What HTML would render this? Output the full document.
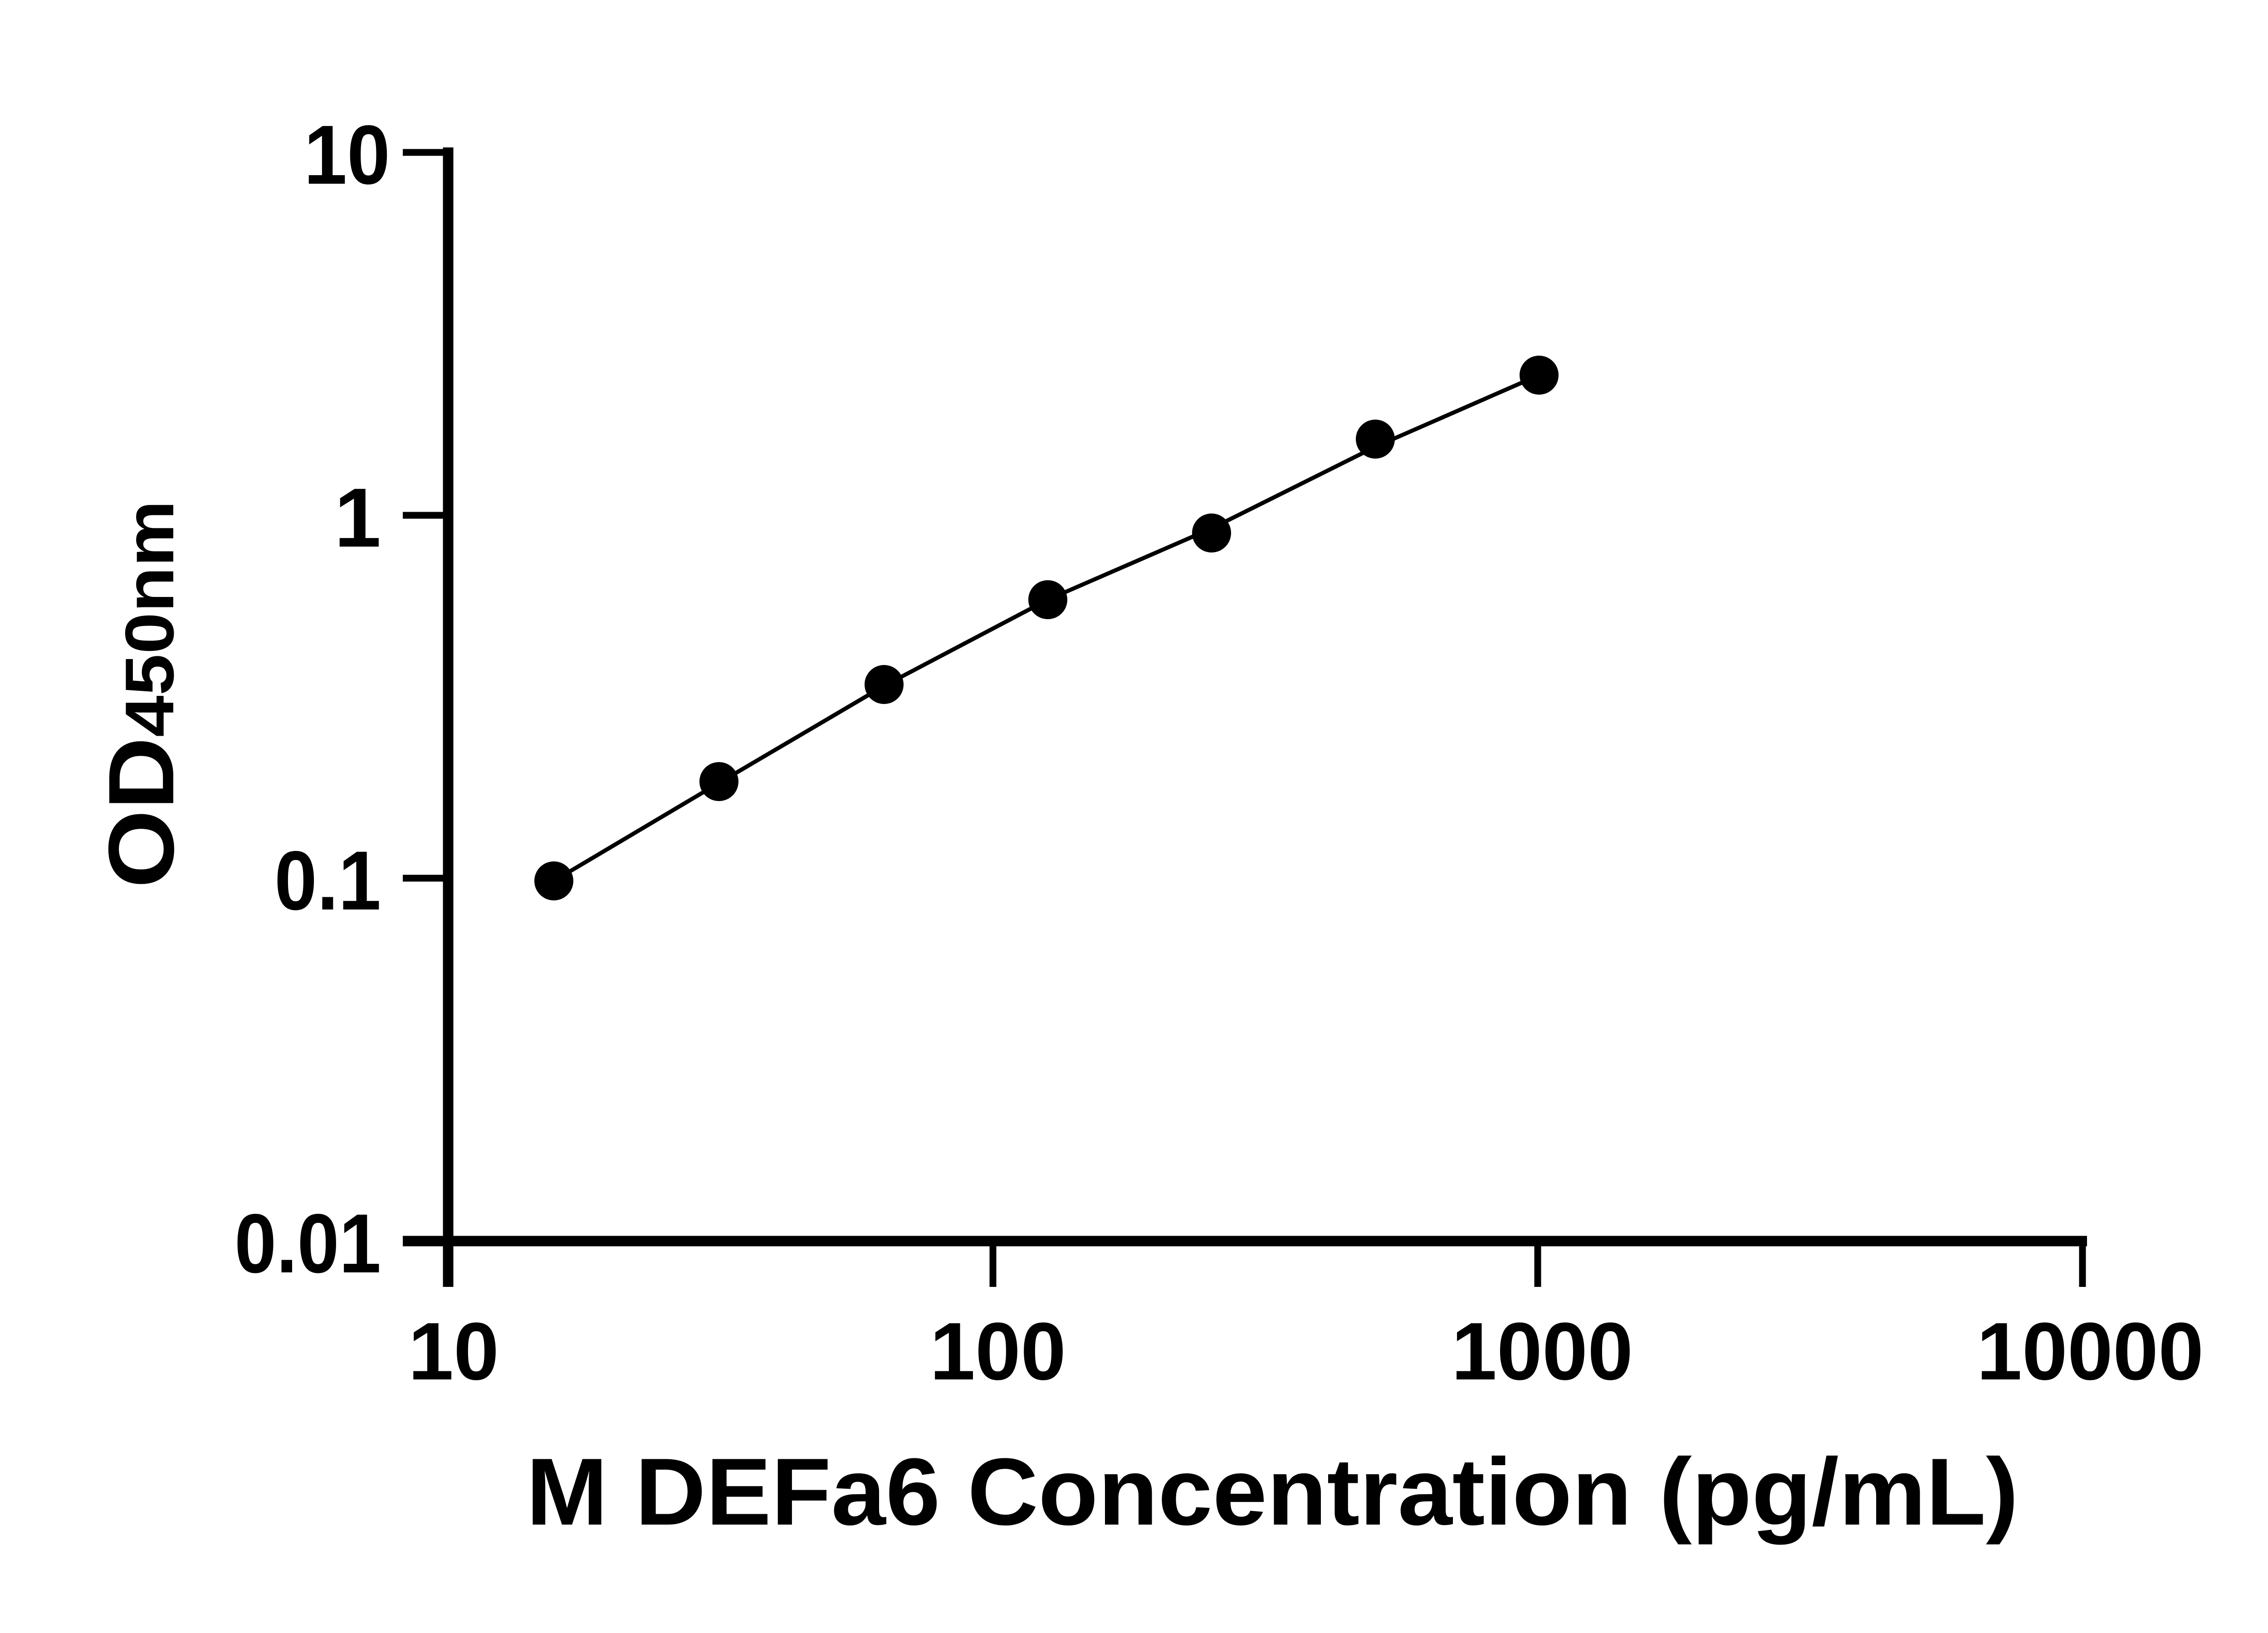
<!DOCTYPE html>
<html><head><style>html,body{margin:0;padding:0;background:#fff}svg{display:block}</style></head>
<body>
<svg width="5142" height="3600" viewBox="0 0 5142 3600" xmlns="http://www.w3.org/2000/svg" font-family="'Liberation Sans', sans-serif" font-weight="bold">
<rect width="5142" height="3600" fill="#fff"/>
<line x1="988" y1="325" x2="988" y2="2837" stroke="#000" stroke-width="23"/>
<line x1="888" y1="2736" x2="4601" y2="2736" stroke="#000" stroke-width="23"/>
<g stroke="#000" stroke-width="15">
<line x1="888" y1="336" x2="988" y2="336"/>
<line x1="888" y1="1136" x2="988" y2="1136"/>
<line x1="888" y1="1936" x2="988" y2="1936"/>
<line x1="988" y1="2736" x2="988" y2="2837"/>
<line x1="2189" y1="2736" x2="2189" y2="2837"/>
<line x1="3390" y1="2736" x2="3390" y2="2837"/>
<line x1="4591" y1="2736" x2="4591" y2="2837"/>
</g>
<g font-size="185" text-anchor="end">
<text x="860" y="405" textLength="190" lengthAdjust="spacingAndGlyphs">10</text>
<text x="840" y="1205">1</text>
<text x="840" y="2005" textLength="235" lengthAdjust="spacingAndGlyphs">0.1</text>
<text x="840" y="2805" textLength="323" lengthAdjust="spacingAndGlyphs">0.01</text>
</g>
<g font-size="180" text-anchor="middle">
<text x="1000" y="3041">10</text>
<text x="2200" y="3041">100</text>
<text x="3400" y="3041">1000</text>
<text x="4608" y="3041">10000</text>
</g>
<text x="1160" y="3361" font-size="210" textLength="3290" lengthAdjust="spacingAndGlyphs">M DEFa6 Concentration (pg/mL)</text>
<text transform="translate(382,1958) rotate(-90)" font-size="205" textLength="855" lengthAdjust="spacingAndGlyphs"><tspan>OD</tspan><tspan font-size="152">450nm</tspan></text>
<polyline fill="none" stroke="#000" stroke-width="9" points="1221,1942 1585,1726 1949,1512 2310,1322 2671,1165 3032,985 3393,827"/>
<g fill="#000">
<circle cx="1221" cy="1942" r="43"/>
<circle cx="1585" cy="1723" r="43"/>
<circle cx="1949" cy="1509" r="43"/>
<circle cx="2310" cy="1322" r="43"/>
<circle cx="2671" cy="1175" r="43"/>
<circle cx="3032" cy="968" r="43"/>
<circle cx="3393" cy="827" r="43"/>
</g>
</svg>
</body></html>
